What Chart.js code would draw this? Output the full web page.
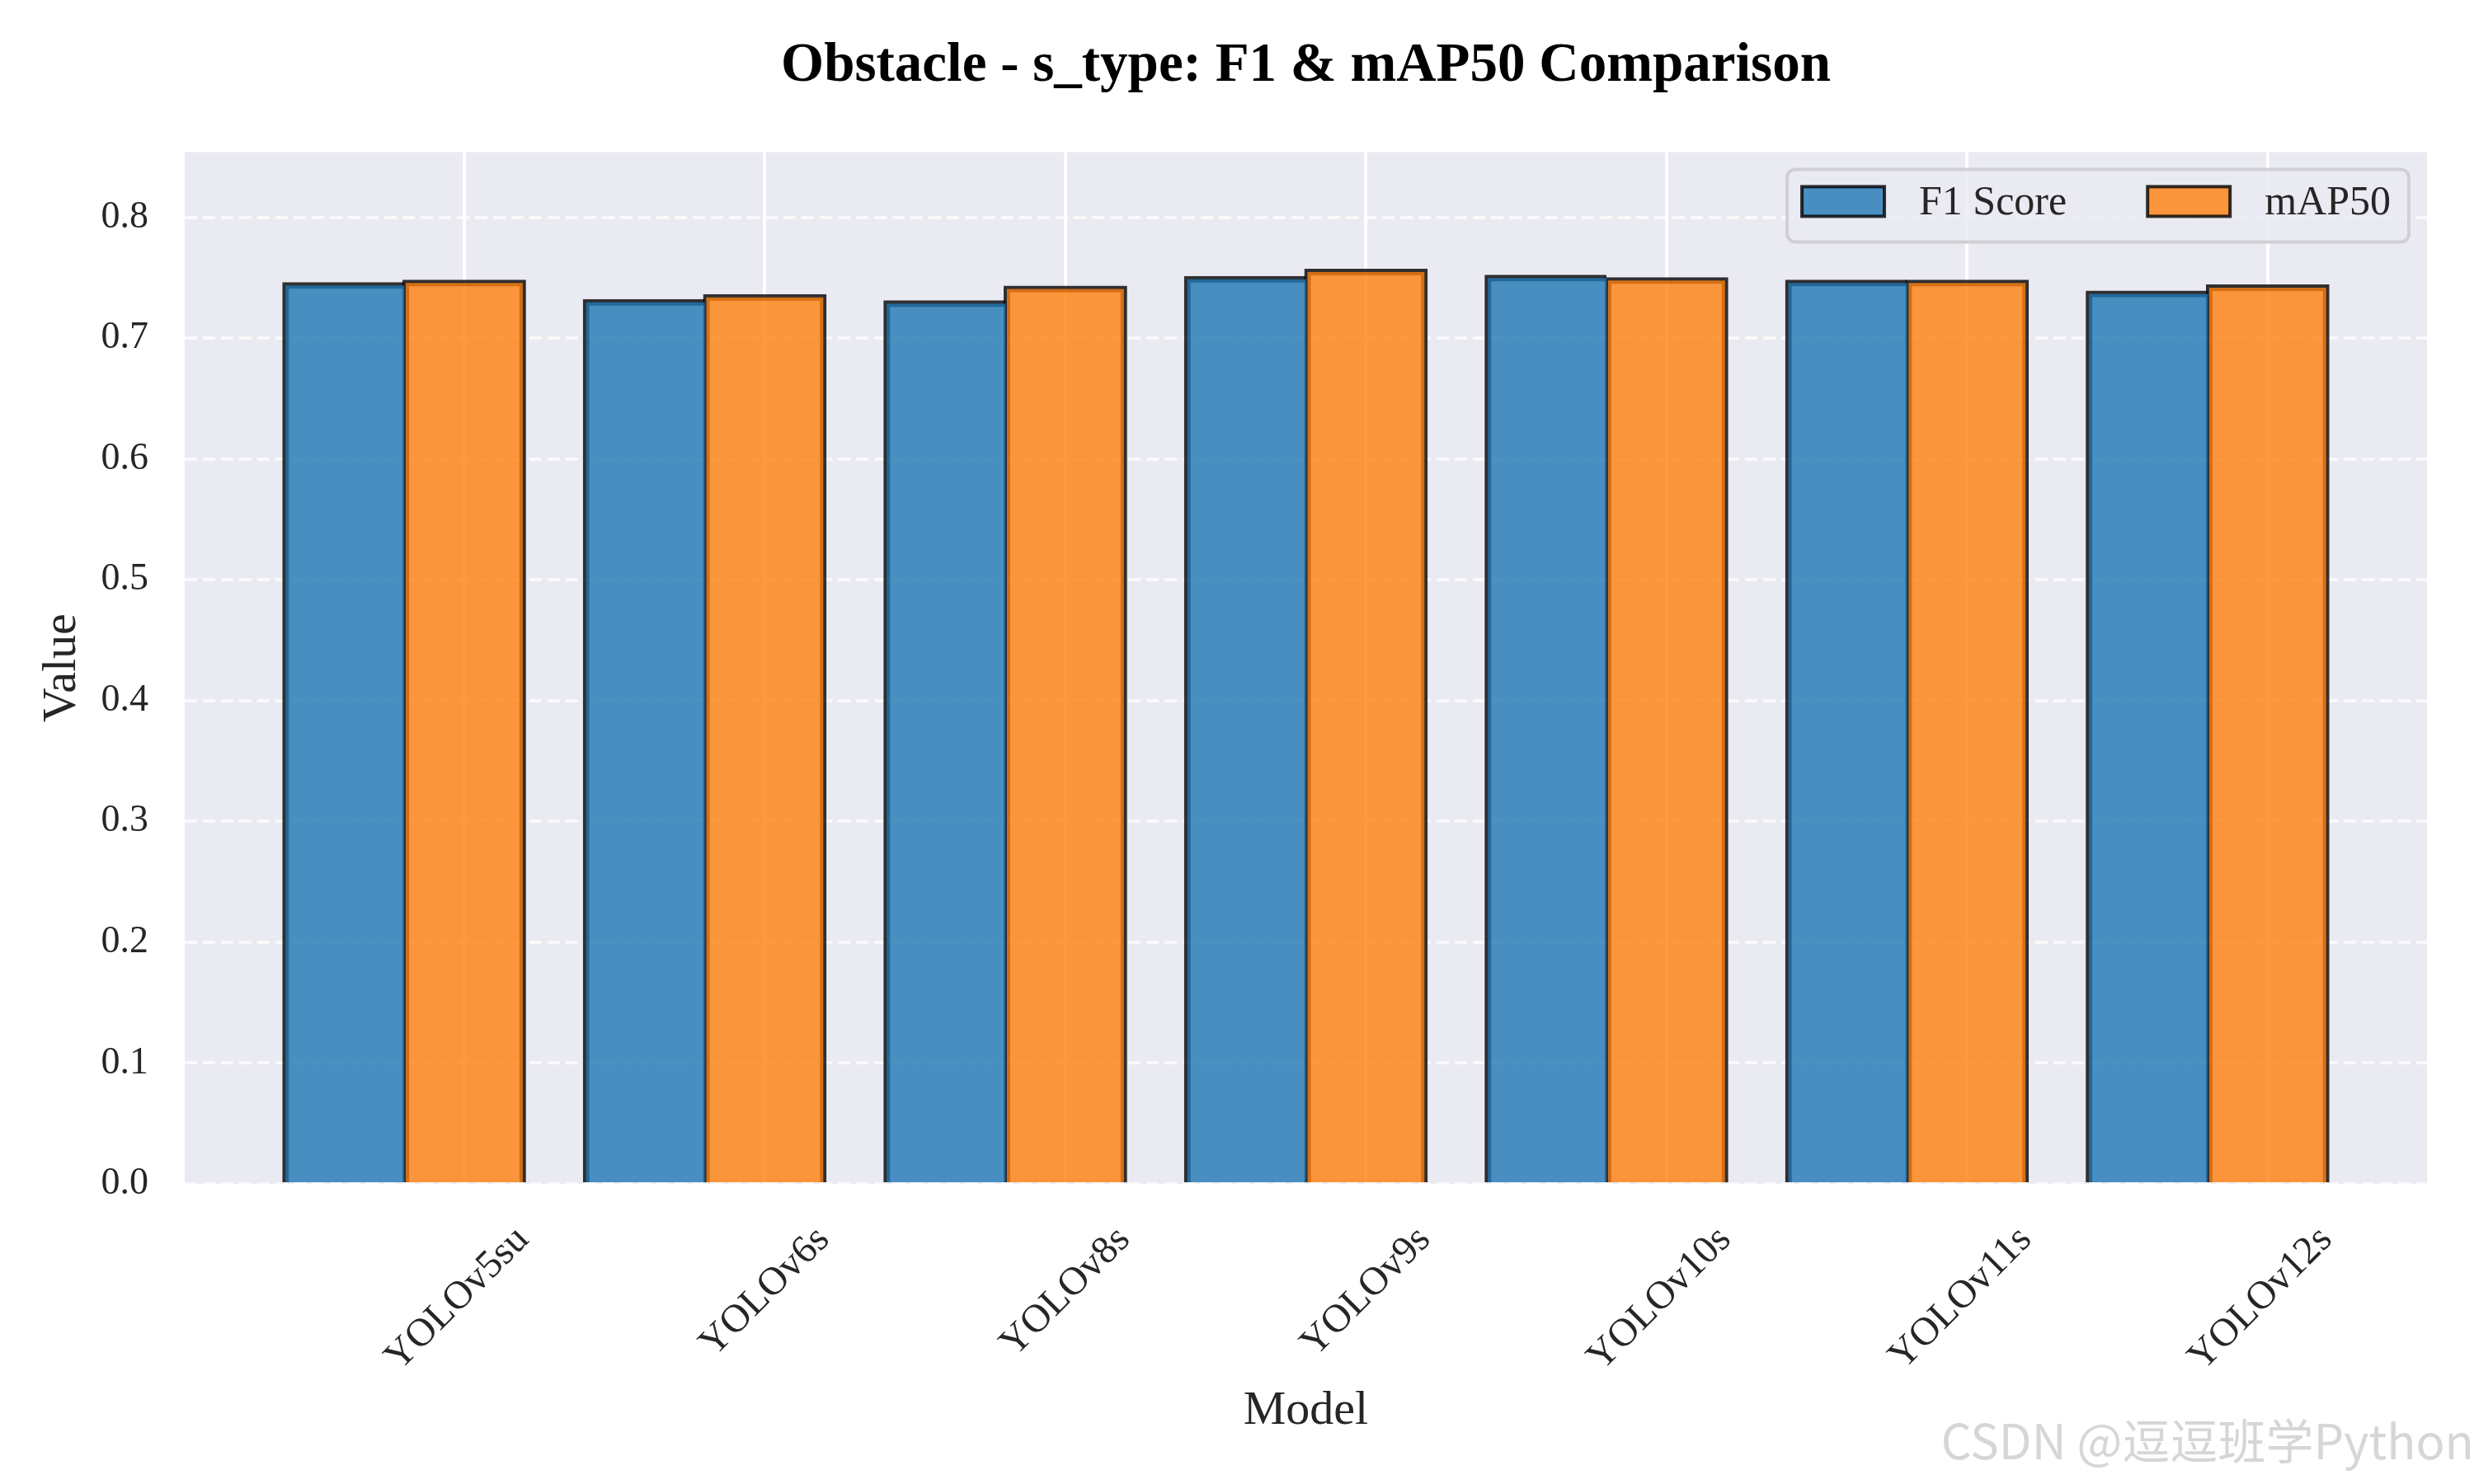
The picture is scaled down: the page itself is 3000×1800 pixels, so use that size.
<!DOCTYPE html>
<html>
<head>
<meta charset="utf-8">
<script src="https://cdn.jsdelivr.net/npm/chart.js@4.4.1/dist/chart.umd.min.js"></script>
<style>
  html, body { margin: 0; padding: 0; background: #fff; }
  canvas { display: block; }
</style>
</head>
<body>
<canvas id="bars" width="3000" height="1800"></canvas>
<script>
var models = ['YOLOv5su', 'YOLOv6s', 'YOLOv8s', 'YOLOv9s', 'YOLOv10s', 'YOLOv11s', 'YOLOv12s'];
var f1Scores = [0.745, 0.731, 0.730, 0.750, 0.751, 0.747, 0.738];
var map50Scores = [0.747, 0.735, 0.742, 0.756, 0.749, 0.747, 0.743];
var seriesNames = ['F1 Score', 'mAP50'];
var yTicks = [0.0, 0.1, 0.2, 0.3, 0.4, 0.5, 0.6, 0.7, 0.8];

var serif = '"Liberation Serif", "Times New Roman", serif';
var textColor = '#262626';
var fills = ['rgba(31,119,180,0.8)', 'rgba(255,127,14,0.8)'];
var edge = 'rgba(0,0,0,0.8)';

function roundRectPath(ctx, x, y, w, h, r) {
    ctx.beginPath();
    ctx.moveTo(x + r, y);
    ctx.arcTo(x + w, y, x + w, y + h, r);
    ctx.arcTo(x + w, y + h, x, y + h, r);
    ctx.arcTo(x, y + h, x, y, r);
    ctx.arcTo(x, y, x + w, y, r);
    ctx.closePath();
}

// grey panel behind the bars
var plotBg = {
    id: 'plotBg',
    beforeDraw: function (chart) {
        var a = chart.chartArea, ctx = chart.ctx;
        ctx.save();
        ctx.fillStyle = '#EAEAF2';
        ctx.fillRect(a.left, a.top, a.right - a.left, a.bottom - a.top);
        ctx.restore();
    }
};

// legend box in the top right corner of the plot
var legendBox = {
    id: 'legendBox',
    afterDraw: function (chart) {
        var ctx = chart.ctx, a = chart.chartArea;
        ctx.save();
        ctx.font = '50px ' + serif;
        var w1 = ctx.measureText(seriesNames[0]).width;
        var w2 = ctx.measureText(seriesNames[1]).width;
        var boxW = 18 + 100 + 42 + w1 + 98 + 100 + 42 + w2 + 22;
        var boxH = 88;
        var right = a.right - 22, top = a.top + 21, left = right - boxW;
        roundRectPath(ctx, left, top, boxW, boxH, 10);
        ctx.fillStyle = 'rgba(234,234,242,0.8)';
        ctx.fill();
        ctx.lineWidth = 4;
        ctx.strokeStyle = '#D0D0D4';
        ctx.stroke();

        var cy = top + 39;
        var x = left + 18;
        var widths = [w1, w2];
        for (var i = 0; i < 2; i++) {
            ctx.fillStyle = fills[i];
            ctx.fillRect(x, cy - 18, 100, 36);
            ctx.strokeStyle = edge;
            ctx.lineWidth = 4;
            ctx.strokeRect(x, cy - 18, 100, 36);
            ctx.fillStyle = textColor;
            ctx.textBaseline = 'middle';
            ctx.textAlign = 'left';
            ctx.fillText(seriesNames[i], x + 142, cy + 2);
            x += 142 + widths[i] + 98;
        }
        ctx.restore();
    }
};

var watermark = {
    id: 'watermark',
    afterDraw: function (chart) {
        var ctx = chart.ctx;
        ctx.save();
        ctx.font = '58px "Noto Sans CJK SC", "Noto Sans", sans-serif';
        ctx.fillStyle = 'rgba(200,200,200,0.75)';
        ctx.textAlign = 'right';
        ctx.textBaseline = 'alphabetic';
        ctx.fillText('CSDN @逗逗班学Python', 3000, 1770);
        ctx.restore();
    }
};

new Chart(document.getElementById('bars'), {
    type: 'bar',
    data: {
        datasets: [{
            label: seriesNames[0],
            data: f1Scores.map(function (v, i) { return { x: i, y: v }; }),
            backgroundColor: fills[0],
            borderColor: edge,
            borderWidth: { top: 4, left: 4, right: 0, bottom: 0 },
            inflateAmount: 2,
            categoryPercentage: 0.8,
            barPercentage: 1.0
        }, {
            label: seriesNames[1],
            data: map50Scores.map(function (v, i) { return { x: i, y: v }; }),
            backgroundColor: fills[1],
            borderColor: edge,
            borderWidth: { top: 4, left: 4, right: 4, bottom: 0 },
            inflateAmount: 2,
            categoryPercentage: 0.8,
            barPercentage: 1.0
        }]
    },
    options: {
        responsive: false,
        devicePixelRatio: 1,
        animation: false,
        layout: { padding: { left: 0, right: 57, top: 0, bottom: 0 } },
        plugins: {
            legend: { display: false },
            tooltip: { enabled: false },
            title: {
                display: true,
                text: 'Obstacle - s_type: F1 & mAP50 Comparison',
                fullSize: false,
                color: '#000',
                font: { family: serif, size: 67, weight: 'bold' },
                padding: { top: 40, bottom: 64 }
            }
        },
        scales: {
            x: {
                type: 'linear',
                offset: false,
                min: -0.73,
                max: 6.73,
                afterBuildTicks: function (s) {
                    s.ticks = models.map(function (m, i) { return { value: i + 0.2 }; });
                },
                afterFit: function (s) { s.height = 364; },
                ticks: {
                    autoSkip: false,
                    minRotation: 45,
                    maxRotation: 45,
                    labelOffset: 71,
                    padding: 40,
                    color: textColor,
                    font: { family: serif, size: 48 },
                    callback: function (v, i) { return models[i]; }
                },
                grid: { offset: false, color: '#ffffff', lineWidth: 4, drawTicks: false },
                border: { display: false },
                title: {
                    display: true,
                    text: 'Model',
                    color: textColor,
                    font: { family: serif, size: 58 },
                    padding: { top: 0, bottom: 53 }
                }
            },
            y: {
                min: 0,
                max: 0.854,
                afterBuildTicks: function (s) {
                    s.ticks = yTicks.map(function (v) { return { value: v }; });
                },
                afterFit: function (s) { s.width = 224; },
                ticks: {
                    padding: 44,
                    color: textColor,
                    font: { family: serif, size: 46 },
                    callback: function (v) { return Number(v).toFixed(1); }
                },
                grid: { color: 'rgba(255,255,255,0.7)', lineWidth: 4, drawTicks: false },
                border: { display: false, dash: [15, 7] },
                title: {
                    display: true,
                    text: 'Value',
                    color: textColor,
                    font: { family: serif, size: 58 },
                    padding: { top: 41, bottom: 0 }
                }
            }
        }
    },
    plugins: [plotBg, legendBox, watermark]
});
</script>
</body>
</html>
